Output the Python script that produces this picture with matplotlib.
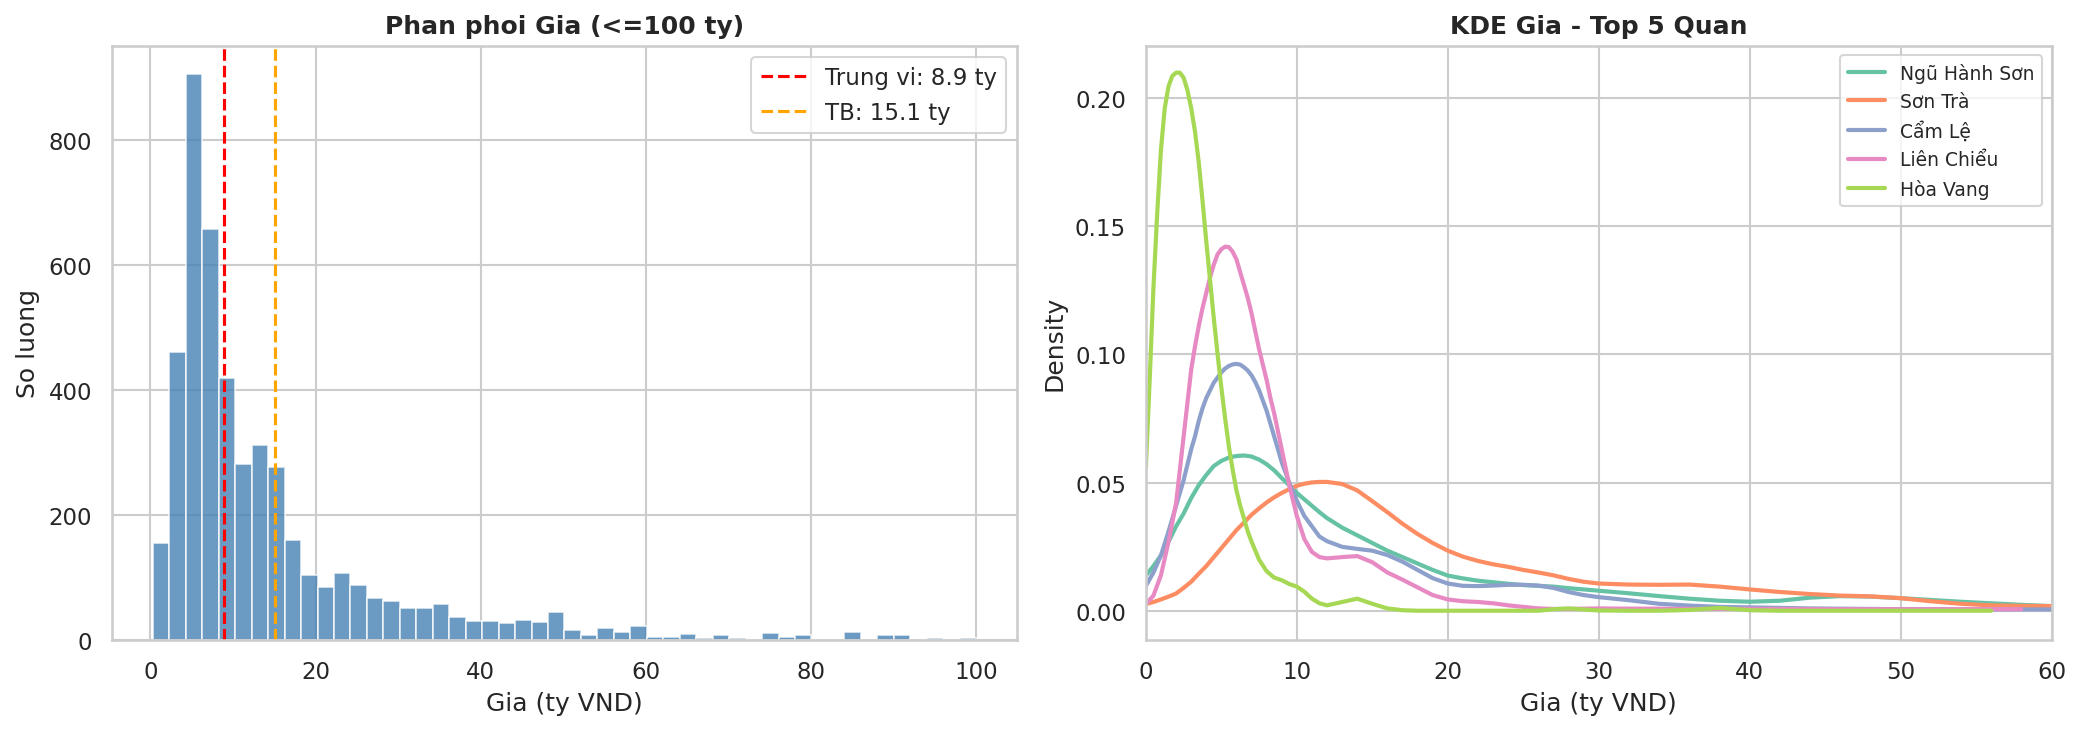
import numpy as np
import matplotlib
matplotlib.use("Agg")
import matplotlib.pyplot as plt
import seaborn as sns

# histogram counts, 50 bins between the min and max price (ty VND)
bin_lo = 0.3
bin_hi = 100.0
hist_counts = [154, 461, 905, 657, 418, 281, 311, 277, 160, 103,
               84, 106, 87, 66, 62, 50, 50, 57, 37, 30,
               30, 27, 32, 28, 45, 16, 8, 19, 12, 22,
               4, 4, 9, 3, 7, 2, 0, 11, 4, 7,
               0, 0, 12, 0, 7, 7, 1, 2, 0, 2]
median_price = 8.9
mean_price = 15.1

# KDE curves
# tail grid shared by every district (x >= 13)
tail_x = [13, 14, 15, 16, 17, 18, 19, 20, 21, 22, 23, 24, 25, 26, 27, 28, 29, 30,
          32, 34, 36, 38, 40, 42, 44, 46, 48, 50, 52, 54, 56, 58, 60]

# smooth curves: 0.5 steps up to 12
head_x = [0, 0.5, 1, 1.5, 2, 2.5, 3, 3.5, 4, 4.5, 5, 5.5, 6, 6.5, 7, 7.5,
          8, 8.5, 9, 9.5, 10, 10.5, 11, 11.5, 12]

ngu_hanh_son = [0.0138, 0.0175, 0.0217, 0.027, 0.033, 0.038, 0.044, 0.049,
                0.053, 0.0565, 0.0585, 0.0598, 0.0604, 0.0606, 0.0602, 0.059,
                0.0572, 0.0548, 0.0518, 0.049, 0.046, 0.0435, 0.041, 0.0385, 0.0362,
                0.0325, 0.0295, 0.0265, 0.0235, 0.021, 0.0185, 0.016, 0.0138,
                0.0127, 0.0118, 0.0112, 0.0106, 0.0101, 0.0098, 0.0095, 0.0089,
                0.0084, 0.0079,
                0.0069, 0.0058, 0.0048, 0.004, 0.0036, 0.004, 0.0052, 0.0058,
                0.0056, 0.005, 0.0043, 0.0036, 0.003, 0.0024, 0.0019]

son_tra = [0.0027, 0.0035, 0.0045, 0.0056, 0.0068, 0.009, 0.0114, 0.0145,
           0.0175, 0.021, 0.0245, 0.028, 0.0315, 0.0345, 0.0375, 0.040,
           0.0423, 0.0443, 0.046, 0.0475, 0.0488, 0.0496, 0.0501, 0.0503, 0.0503,
           0.0495, 0.047, 0.0428, 0.0385, 0.034, 0.030, 0.0265, 0.0235,
           0.0212, 0.0195, 0.0182, 0.0172, 0.016, 0.015, 0.0139, 0.0125,
           0.0114, 0.0107,
           0.0103, 0.0102, 0.0103, 0.0095, 0.0084, 0.0074, 0.0066, 0.006,
           0.0057, 0.005, 0.0038, 0.0028, 0.0022, 0.002, 0.0019]

# peaked curves: finer steps near the peak
cam_le_x = [0, 0.5, 1, 1.5, 2, 2.5, 3, 3.25, 3.5, 3.75, 4, 4.25, 4.5, 4.75,
            5, 5.25, 5.5, 5.75, 6, 6.25, 6.5, 6.75, 7, 7.25, 7.5, 7.75,
            8, 8.25, 8.5, 8.75, 9, 9.5, 10, 10.5, 11, 11.5, 12]
cam_le = [0.0098, 0.015, 0.0217, 0.031, 0.041, 0.051, 0.063, 0.068, 0.074, 0.079,
          0.083, 0.086, 0.089, 0.091, 0.093, 0.0945, 0.0955, 0.0961, 0.0963,
          0.096, 0.095, 0.0937, 0.0918, 0.0892, 0.086, 0.082, 0.078, 0.073,
          0.068, 0.063, 0.058, 0.050, 0.043, 0.037, 0.033, 0.029, 0.0272,
          0.025, 0.0242, 0.0235, 0.0218, 0.0192, 0.016, 0.0128, 0.0107,
          0.0098, 0.0097, 0.0099, 0.0102, 0.0102, 0.0099, 0.009, 0.0074,
          0.0062, 0.0054,
          0.0042, 0.0028, 0.0021, 0.0016, 0.0014, 0.0012, 0.001, 0.0009,
          0.0008, 0.0007, 0.0007, 0.0006, 0.0006, 0.0006, 0.0006]

lien_chieu_x = [0, 0.5, 1, 1.5, 2, 2.25, 2.5, 2.75, 3, 3.25, 3.5, 3.75, 4, 4.25,
                4.5, 4.75, 5, 5.25, 5.5, 5.75, 6, 6.25, 6.5, 6.75, 7, 7.25, 7.5,
                7.75, 8, 8.25, 8.5, 8.75, 9, 9.25, 9.5, 9.75, 10, 10.5, 11, 11.5, 12]
lien_chieu = [0.0027, 0.006, 0.014, 0.027, 0.042, 0.055, 0.068, 0.081, 0.094,
              0.103, 0.111, 0.118, 0.124, 0.130, 0.135, 0.139, 0.141, 0.142,
              0.1418, 0.140, 0.137, 0.132, 0.127, 0.122, 0.116, 0.109, 0.102,
              0.096, 0.090, 0.083, 0.077, 0.070, 0.063, 0.056, 0.049, 0.043,
              0.037, 0.028, 0.023, 0.021, 0.0205,
              0.021, 0.0214, 0.019, 0.015, 0.0122, 0.0092, 0.0062, 0.0045,
              0.0038, 0.0035, 0.003, 0.0022, 0.0016, 0.001, 0.0008, 0.0008,
              0.0009, 0.001,
              0.0009, 0.0009, 0.0008, 0.0008, 0.0008, 0.0008, 0.0007, 0.0007,
              0.0007, 0.0007, 0.0007, 0.0007, 0.0007, 0.0007, np.nan]

hoa_vang_x = [0, 0.25, 0.5, 0.75, 1, 1.25, 1.5, 1.75, 2, 2.25, 2.5, 2.75, 3,
              3.25, 3.5, 3.75, 4, 4.25, 4.5, 4.75, 5, 5.25, 5.5, 5.75, 6, 6.25,
              6.5, 6.75, 7, 7.5, 8, 8.5, 9, 9.5, 10, 10.5, 11, 11.5, 12]
hoa_vang = [0.056, 0.090, 0.126, 0.155, 0.180, 0.196, 0.2045, 0.2085, 0.2098,
            0.2098, 0.2078, 0.203, 0.196, 0.187, 0.175, 0.160, 0.144, 0.129,
            0.114, 0.100, 0.087, 0.075, 0.064, 0.055, 0.047, 0.041, 0.036,
            0.031, 0.027, 0.020, 0.0155, 0.013, 0.012, 0.0105, 0.0095, 0.0075,
            0.0048, 0.003, 0.0022,
            0.0035, 0.0048, 0.0028, 0.001, 0.0003, 0.0001, 0.0001, 0.0001,
            0.0001, 0.0001, 0.0001, 0.0001, 0.0001, 0.0001, 0.0007, 0.001,
            0.0006, 0.0002,
            0.0001, 0.0001, 0.0004, 0.0012, 0.0003, 0.0001, 0.0001, 0.0001,
            0.0001, 0.0001, 0.0001, 0.0001, 0.0001, np.nan, np.nan]

districts = ["Ngũ Hành Sơn", "Sơn Trà", "Cẩm Lệ", "Liên Chiểu", "Hòa Vang"]
district_x = [head_x, head_x, cam_le_x, lien_chieu_x, hoa_vang_x]
district_kde = [ngu_hanh_son, son_tra, cam_le, lien_chieu, hoa_vang]

sns.set_theme(style="whitegrid")
plt.rcParams["font.family"] = ["DejaVu Sans"]

fig, axes = plt.subplots(1, 2, figsize=(2080 / 150, 730 / 150), dpi=150)
fig.subplots_adjust(left=0.0537, right=0.9863, bottom=0.1223, top=0.936, wspace=0.142)

# --- histogram ---
ax = axes[0]
edges = np.linspace(bin_lo, bin_hi, len(hist_counts) + 1)
centers = (edges[:-1] + edges[1:]) / 2
ax.hist(centers, bins=edges, weights=hist_counts, color="steelblue", alpha=0.8,
        edgecolor="white", linewidth=0.8)
ax.axvline(median_price, color="red", linestyle="--", linewidth=1.5,
           label=f"Trung vi: {median_price} ty")
ax.axvline(mean_price, color="orange", linestyle="--", linewidth=1.5,
           label=f"TB: {mean_price} ty")
ax.set_title("Phan phoi Gia (<=100 ty)", fontweight="bold")
ax.set_xlabel("Gia (ty VND)")
ax.set_ylabel("So luong")
ax.set_xticks([0, 20, 40, 60, 80, 100])
ax.set_yticks([0, 200, 400, 600, 800])
ax.legend(loc="upper right")

# --- KDE per district ---
ax = axes[1]
colors = sns.color_palette("Set2", len(districts))
for name, hx, dens, col in zip(districts, district_x, district_kde, colors):
    xs = list(hx) + tail_x
    ax.plot(xs, dens, color=col, linewidth=2, label=name)
ax.set_xlim(0, 60)
ax.set_ylim(-0.0112, 0.2203)
ax.set_yticks([0.0, 0.05, 0.10, 0.15, 0.20])
ax.set_title("KDE Gia - Top 5 Quan", fontweight="bold")
ax.set_xlabel("Gia (ty VND)")
ax.set_ylabel("Density")
ax.legend(loc="upper right", fontsize=9)

fig.savefig("out.png", dpi=150)
